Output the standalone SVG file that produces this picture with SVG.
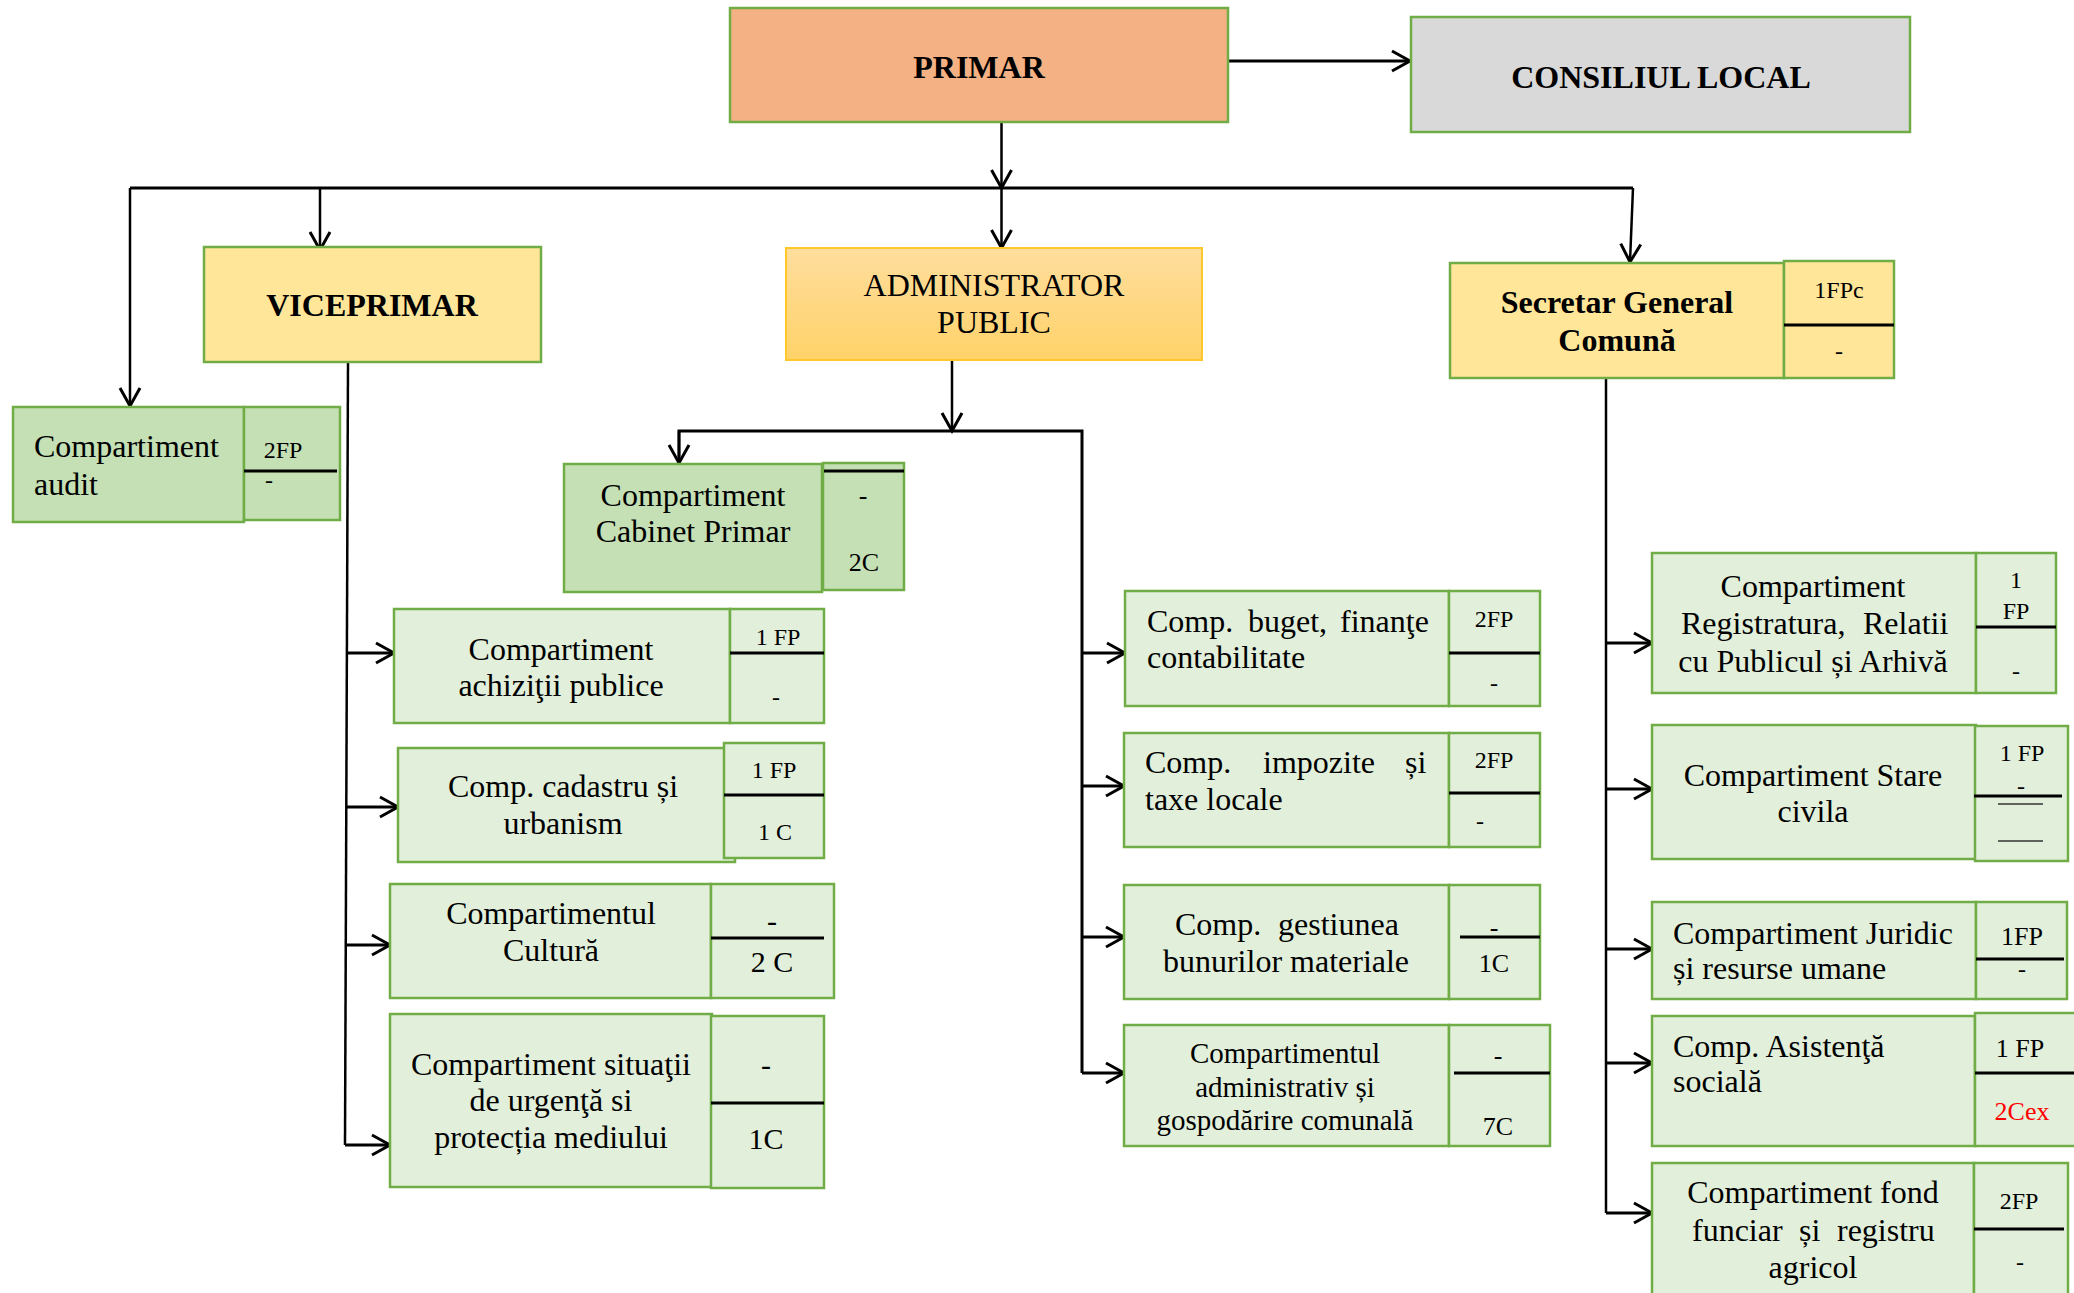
<svg xmlns="http://www.w3.org/2000/svg" width="2074" height="1293" viewBox="0 0 2074 1293">
<defs>
<style>
.g{fill:#E2EFDA;stroke:#70AD47;stroke-width:2.5}
.gd{fill:#C5E0B4;stroke:#70AD47;stroke-width:2.5}
.y{fill:#FFE699;stroke:#70AD47;stroke-width:2.5}
text{font-family:"Liberation Serif","Times New Roman",serif;font-size:32px;fill:#000}
.b{font-weight:bold}
.s{font-size:24px}
.m{font-size:26px}
.l{font-size:30px}
.c{text-anchor:middle}
.sep{stroke:#000;stroke-width:3}
.thin{stroke:#333;stroke-width:1.5}
.cn{fill:none;stroke:#000;stroke-width:3}
.cv{fill:none;stroke:#000;stroke-width:2.5}
</style>
<linearGradient id="ag" x1="0" y1="0" x2="0" y2="1">
<stop offset="0" stop-color="#FFDE9E"/>
<stop offset="1" stop-color="#FFD269"/>
</linearGradient>
<marker id="ah" viewBox="0 0 24 24" refX="20" refY="12" markerWidth="24" markerHeight="24" markerUnits="userSpaceOnUse" orient="auto" overflow="visible">
<path d="M2,2 L20,12 L2,22" fill="none" stroke="#000" stroke-width="3"/>
</marker>
</defs>
<rect width="2074" height="1293" fill="#fff"/>

<g id="connectors">
<path class="cn" d="M1228,61 H1410" marker-end="url(#ah)"/>
<path class="cv" d="M1001.5,122 V188" marker-end="url(#ah)"/>
<path class="cn" d="M130,188 H1633"/>
<path class="cv" d="M130,188 V406" marker-end="url(#ah)"/>
<path class="cv" d="M320,188 V250" marker-end="url(#ah)"/>
<path class="cv" d="M1001.5,188 V248" marker-end="url(#ah)"/>
<path class="cv" d="M1633,188 L1630,262" marker-end="url(#ah)"/>
<path class="cv" d="M348,362 L345,1145"/>
<path class="cn" d="M346,653 H394" marker-end="url(#ah)"/>
<path class="cn" d="M346,807 H398" marker-end="url(#ah)"/>
<path class="cn" d="M345.5,945 H390" marker-end="url(#ah)"/>
<path class="cn" d="M345,1145 H390" marker-end="url(#ah)"/>
<path class="cv" d="M952,360 V431" marker-end="url(#ah)"/>
<path class="cn" d="M679,463 V431 H1082 V1073"/>
<path class="cv" d="M679,431 V463" marker-end="url(#ah)"/>
<path class="cn" d="M1082,653 H1125" marker-end="url(#ah)"/>
<path class="cn" d="M1082,786 H1124" marker-end="url(#ah)"/>
<path class="cn" d="M1082,937 H1124" marker-end="url(#ah)"/>
<path class="cn" d="M1082,1073 H1124" marker-end="url(#ah)"/>
<path class="cv" d="M1606,378 V1213"/>
<path class="cn" d="M1606,643 H1652" marker-end="url(#ah)"/>
<path class="cn" d="M1606,789 H1652" marker-end="url(#ah)"/>
<path class="cn" d="M1606,949 H1652" marker-end="url(#ah)"/>
<path class="cn" d="M1606,1063 H1652" marker-end="url(#ah)"/>
<path class="cn" d="M1606,1213 H1652" marker-end="url(#ah)"/>
</g>

<g id="primar">
<rect x="730" y="8" width="498" height="114" fill="#F4B183" stroke="#70AD47" stroke-width="2.5"/>
<text class="b c" x="979" y="78">PRIMAR</text>
</g>

<g id="consiliul-local">
<rect x="1411" y="17" width="499" height="115" fill="#D9D9D9" stroke="#70AD47" stroke-width="2.5"/>
<text class="b c" x="1661" y="88">CONSILIUL LOCAL</text>
</g>

<g id="viceprimar">
<rect class="y" x="204" y="247" width="337" height="115"/>
<text class="b c" x="372" y="316">VICEPRIMAR</text>
</g>

<g id="administrator">
<rect x="786" y="248" width="416" height="112" fill="url(#ag)" stroke="#FFC72C" stroke-width="2"/>
<text class="c" x="994" y="296">ADMINISTRATOR</text>
<text class="c" x="994" y="333">PUBLIC</text>
</g>

<g id="secretar">
<rect class="y" x="1450" y="263" width="334" height="115"/>
<rect class="y" x="1784" y="261" width="110" height="117"/>
<line class="sep" x1="1784" y1="325" x2="1894" y2="325"/>
<text class="b c" x="1617" y="313">Secretar General</text>
<text class="b c" x="1617" y="351">Comună</text>
<text class="s c" x="1839" y="298">1FPc</text>
<text class="s c" x="1839" y="359">-</text>
</g>

<g id="audit">
<rect class="gd" x="13" y="407" width="231" height="115"/>
<rect class="gd" x="244" y="407" width="96" height="113"/>
<line class="sep" x1="244" y1="471" x2="337" y2="471"/>
<text x="34" y="457">Compartiment</text>
<text x="34" y="495">audit</text>
<text class="s c" x="283" y="458">2FP</text>
<text class="s" x="265" y="488">-</text>
</g>

<g id="cabinet">
<rect class="gd" x="564" y="464" width="258" height="128"/>
<rect class="gd" x="823" y="463" width="81" height="127"/>
<line class="sep" x1="824" y1="471" x2="904" y2="471"/>
<text class="c" x="693" y="506">Compartiment</text>
<text class="c" x="693" y="542">Cabinet Primar</text>
<text class="m c" x="863" y="504">-</text>
<text class="m c" x="864" y="571">2C</text>
</g>

<g id="achizitii">
<rect class="g" x="394" y="609" width="336" height="114"/>
<rect class="g" x="730" y="609" width="94" height="114"/>
<line class="sep" x1="730" y1="653" x2="824" y2="653"/>
<text class="c" x="561" y="660">Compartiment</text>
<text class="c" x="561" y="696">achiziţii publice</text>
<text class="s c" x="778" y="645">1 FP</text>
<text class="s c" x="776" y="705">-</text>
</g>

<g id="cadastru">
<rect class="g" x="398" y="748" width="337" height="114"/>
<rect class="g" x="724" y="743" width="100" height="115"/>
<line class="sep" x1="724" y1="795" x2="824" y2="795"/>
<text class="c" x="563" y="797">Comp. cadastru și</text>
<text class="c" x="563" y="834">urbanism</text>
<text class="s c" x="774" y="778">1 FP</text>
<text class="s c" x="775" y="840">1 C</text>
</g>

<g id="cultura">
<rect class="g" x="390" y="884" width="321" height="114"/>
<rect class="g" x="711" y="884" width="123" height="114"/>
<line class="sep" x1="711" y1="938" x2="824" y2="938"/>
<text class="c" x="551" y="924">Compartimentul</text>
<text class="c" x="551" y="961">Cultură</text>
<text class="l c" x="772" y="931">-</text>
<text class="l c" x="772" y="972">2 C</text>
</g>

<g id="situatii">
<rect class="g" x="390" y="1014" width="322" height="173"/>
<rect class="g" x="711" y="1016" width="113" height="172"/>
<line class="sep" x1="711" y1="1103" x2="824" y2="1103"/>
<text class="c" x="551" y="1075">Compartiment situaţii</text>
<text class="c" x="551" y="1111">de urgenţă si</text>
<text class="c" x="551" y="1148">protecția mediului</text>
<text class="l c" x="766" y="1075">-</text>
<text class="l c" x="766" y="1149">1C</text>
</g>

<g id="buget">
<rect class="g" x="1125" y="591" width="324" height="115"/>
<rect class="g" x="1449" y="591" width="91" height="115"/>
<line class="sep" x1="1449" y1="653" x2="1540" y2="653"/>
<text x="1147" y="632">Comp.</text>
<text x="1248" y="632">buget,</text>
<text x="1340" y="632">finanţe</text>
<text x="1147" y="668">contabilitate</text>
<text class="s c" x="1494" y="627">2FP</text>
<text class="s c" x="1494" y="691">-</text>
</g>

<g id="impozite">
<rect class="g" x="1124" y="733" width="325" height="114"/>
<rect class="g" x="1449" y="733" width="91" height="114"/>
<line class="sep" x1="1449" y1="793" x2="1540" y2="793"/>
<text x="1145" y="773">Comp.</text>
<text x="1263" y="773">impozite</text>
<text x="1405" y="773">și</text>
<text x="1145" y="810">taxe locale</text>
<text class="s c" x="1494" y="768">2FP</text>
<text class="s c" x="1480" y="829">-</text>
</g>

<g id="gestiunea">
<rect class="g" x="1124" y="885" width="325" height="114"/>
<rect class="g" x="1449" y="885" width="91" height="114"/>
<line class="sep" x1="1460" y1="937" x2="1540" y2="937"/>
<text x="1175" y="935">Comp.</text>
<text x="1278" y="935">gestiunea</text>
<text class="c" x="1286" y="972">bunurilor materiale</text>
<text class="m c" x="1494" y="936">-</text>
<text class="m c" x="1494" y="972">1C</text>
</g>

<g id="administrativ">
<rect class="g" x="1124" y="1025" width="325" height="121"/>
<rect class="g" x="1449" y="1025" width="101" height="121"/>
<line class="sep" x1="1454" y1="1073" x2="1550" y2="1073"/>
<text class="c" x="1285" y="1063" style="font-size:29px">Compartimentul</text>
<text class="c" x="1285" y="1097" style="font-size:29px">administrativ și</text>
<text class="c" x="1285" y="1130" style="font-size:29px">gospodărire comunală</text>
<text class="m c" x="1498" y="1064">-</text>
<text class="m c" x="1498" y="1135">7C</text>
</g>

<g id="registratura">
<rect class="g" x="1652" y="553" width="324" height="140"/>
<rect class="g" x="1976" y="553" width="80" height="140"/>
<line class="sep" x1="1976" y1="627" x2="2056" y2="627"/>
<text class="c" x="1813" y="597">Compartiment</text>
<text x="1681" y="634">Registratura,</text>
<text x="1863" y="634">Relatii</text>
<text class="c" x="1813" y="672">cu Publicul și Arhivă</text>
<text class="s c" x="2016" y="588">1</text>
<text class="s c" x="2016" y="619">FP</text>
<text class="s c" x="2016" y="679">-</text>
</g>

<g id="stare-civila">
<rect class="g" x="1652" y="725" width="324" height="134"/>
<rect class="g" x="1975" y="726" width="93" height="135"/>
<line class="sep" x1="1974" y1="796" x2="2062" y2="796"/>
<line class="thin" x1="1998" y1="804" x2="2043" y2="804"/>
<line class="thin" x1="1998" y1="841" x2="2043" y2="841"/>
<text class="c" x="1813" y="786">Compartiment Stare</text>
<text class="c" x="1813" y="822">civila</text>
<text class="s c" x="2022" y="761">1 FP</text>
<text class="s c" x="2021" y="794">-</text>
</g>

<g id="juridic">
<rect class="g" x="1652" y="902" width="324" height="97"/>
<rect class="g" x="1976" y="902" width="91" height="97"/>
<line class="sep" x1="1976" y1="959" x2="2064" y2="959"/>
<text x="1673" y="944">Compartiment Juridic</text>
<text x="1673" y="979">și resurse umane</text>
<text class="m c" x="2022" y="945">1FP</text>
<text class="s c" x="2022" y="977">-</text>
</g>

<g id="asistenta">
<rect class="g" x="1652" y="1016" width="323" height="130"/>
<rect class="g" x="1975" y="1013" width="102" height="133"/>
<line class="sep" x1="1975" y1="1073" x2="2074" y2="1073"/>
<text x="1673" y="1057">Comp. Asistenţă</text>
<text x="1673" y="1092">socială</text>
<text class="m c" x="2020" y="1057">1 FP</text>
<text class="m c" x="2022" y="1120" style="fill:#FF0000">2Cex</text>
</g>

<g id="fond-funciar">
<rect class="g" x="1652" y="1163" width="322" height="140"/>
<rect class="g" x="1974" y="1163" width="94" height="140"/>
<line class="sep" x1="1974" y1="1229" x2="2064" y2="1229"/>
<text class="c" x="1813" y="1203">Compartiment fond</text>
<text x="1692" y="1241">funciar</text>
<text x="1799" y="1241">și</text>
<text x="1837" y="1241">registru</text>
<text class="c" x="1813" y="1278">agricol</text>
<text class="s c" x="2019" y="1209">2FP</text>
<text class="s c" x="2020" y="1270">-</text>
</g>
</svg>
